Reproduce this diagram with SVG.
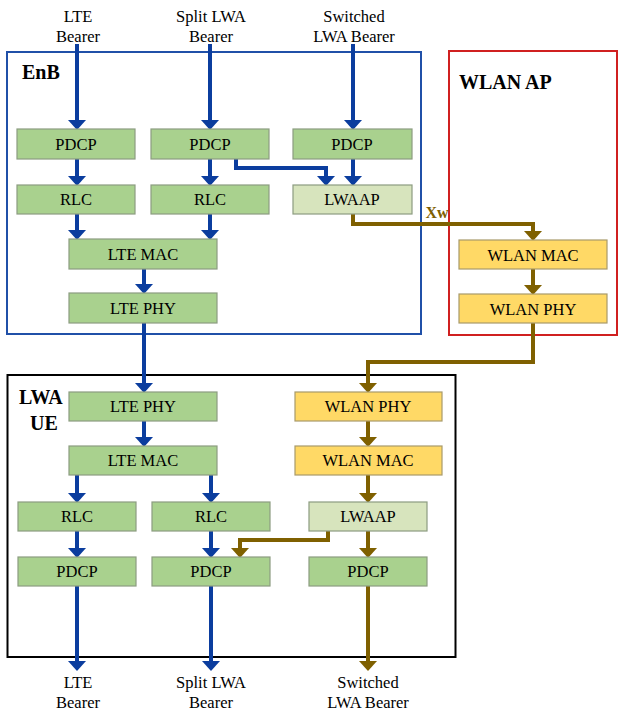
<svg xmlns="http://www.w3.org/2000/svg" width="621" height="717" viewBox="0 0 621 717">
<defs>
<style>
text{font-family:"Liberation Serif","Times New Roman",serif;font-size:16.5px;fill:#000;text-anchor:middle}
.lbl{font-weight:bold;font-size:20px;text-anchor:start}
.g{fill:#a9d18e;stroke:#8c9c80;stroke-width:1.2}
.l{fill:#d7e4bd;stroke:#8c9c80;stroke-width:1.2}
.y{fill:#ffd966;stroke:#a89a6a;stroke-width:1.2}
.b{fill:none;stroke:#0b3d9e;stroke-width:4;stroke-linejoin:miter}
.w{fill:none;stroke:#7f6000;stroke-width:4;stroke-linejoin:miter}
.ab{fill:#0b3d9e}
.aw{fill:#7f6000}
</style>
</defs>
<rect width="621" height="717" fill="#fff"/>

<g id="containers">
<rect x="7" y="52" width="414" height="282" fill="none" stroke="#2050a8" stroke-width="2"/>
<rect x="449" y="51" width="168" height="284" fill="none" stroke="#d02020" stroke-width="2"/>
<rect x="7.5" y="375" width="448" height="282" fill="none" stroke="#000" stroke-width="2"/>
<text class="lbl" x="22" y="79">EnB</text>
<text class="lbl" x="459" y="89">WLAN AP</text>
<text class="lbl" x="19" y="404">LWA</text>
<text class="lbl" x="30" y="430">UE</text>
</g>

<g id="top-labels">
<text x="78" y="22">LTE</text><text x="78" y="42">Bearer</text>
<text x="211" y="22">Split LWA</text><text x="211" y="42">Bearer</text>
<text x="354" y="22">Switched</text><text x="354" y="42">LWA Bearer</text>
</g>
<g id="bottom-labels">
<text x="78" y="688">LTE</text><text x="78" y="708">Bearer</text>
<text x="211" y="688">Split LWA</text><text x="211" y="708">Bearer</text>
<text x="368" y="688">Switched</text><text x="368" y="708">LWA Bearer</text>
</g>

<g id="connectors">
<path class="b" d="M77,44 V121"/><path class="ab" d="M68,120 h18 l-9,10 z"/>
<path class="b" d="M210,44 V121"/><path class="ab" d="M201,120 h18 l-9,10 z"/>
<path class="b" d="M353,44 V121"/><path class="ab" d="M344,120 h18 l-9,10 z"/>
<path class="b" d="M77,159 V177"/><path class="ab" d="M68,176 h18 l-9,10 z"/>
<path class="b" d="M210,159 V177"/><path class="ab" d="M201,176 h18 l-9,10 z"/>
<path class="b" d="M353,159 V177"/><path class="ab" d="M344,176 h18 l-9,10 z"/>
<path class="b" d="M236,159 V168 H326 V177"/><path class="ab" d="M317,176 h18 l-9,10 z"/>
<path class="b" d="M77,214 V231"/><path class="ab" d="M68,230 h18 l-9,10 z"/>
<path class="b" d="M210,214 V231"/><path class="ab" d="M201,230 h18 l-9,10 z"/>
<path class="b" d="M144,269 V285"/><path class="ab" d="M135,284 h18 l-9,10 z"/>
<path class="b" d="M144,323 V384"/><path class="ab" d="M135,383 h18 l-9,10 z"/>
<path class="b" d="M144,421 V438"/><path class="ab" d="M135,437 h18 l-9,10 z"/>
<path class="b" d="M77,475 V494"/><path class="ab" d="M68,493 h18 l-9,10 z"/>
<path class="b" d="M211,475 V494"/><path class="ab" d="M202,493 h18 l-9,10 z"/>
<path class="b" d="M77,531 V549"/><path class="ab" d="M68,548 h18 l-9,10 z"/>
<path class="b" d="M211,531 V549"/><path class="ab" d="M202,548 h18 l-9,10 z"/>
<path class="b" d="M77,586 V662"/><path class="ab" d="M68,661 h18 l-9,10 z"/>
<path class="b" d="M211,586 V662"/><path class="ab" d="M202,661 h18 l-9,10 z"/>
<path class="w" d="M353,214 V224 H533 V232"/><path class="aw" d="M524,231 h18 l-9,10 z"/>
<path class="w" d="M533,269 V286"/><path class="aw" d="M524,285 h18 l-9,10 z"/>
<path class="w" d="M533,323 V362 H368 V384"/><path class="aw" d="M359,383 h18 l-9,10 z"/>
<path class="w" d="M368,421 V438"/><path class="aw" d="M359,437 h18 l-9,10 z"/>
<path class="w" d="M368,475 V494"/><path class="aw" d="M359,493 h18 l-9,10 z"/>
<path class="w" d="M368,531 V549"/><path class="aw" d="M359,548 h18 l-9,10 z"/>
<path class="w" d="M328,531 V540 H240 V549"/><path class="aw" d="M231,548 h18 l-9,10 z"/>
<path class="w" d="M368,586 V662"/><path class="aw" d="M359,661 h18 l-9,10 z"/>
<text x="437" y="218" style="font-weight:bold;fill:#7f6000;font-size:16px">Xw</text>
</g>

<g id="enb-pdcp-lte"><rect class="g" x="17" y="129" width="118" height="30"/><text x="76" y="150">PDCP</text></g>
<g id="enb-pdcp-split"><rect class="g" x="151" y="129" width="118" height="30"/><text x="210" y="150">PDCP</text></g>
<g id="enb-pdcp-switched"><rect class="g" x="293" y="129" width="119" height="30"/><text x="352" y="150">PDCP</text></g>
<g id="enb-rlc-lte"><rect class="g" x="17" y="185" width="118" height="29"/><text x="76" y="205">RLC</text></g>
<g id="enb-rlc-split"><rect class="g" x="151" y="185" width="118" height="29"/><text x="210" y="205">RLC</text></g>
<g id="enb-lwaap"><rect class="l" x="293" y="185" width="119" height="29"/><text x="352" y="205">LWAAP</text></g>
<g id="enb-lte-mac"><rect class="g" x="69" y="239" width="148" height="30"/><text x="143" y="260">LTE MAC</text></g>
<g id="enb-lte-phy"><rect class="g" x="69" y="293" width="148" height="30"/><text x="143" y="314">LTE PHY</text></g>

<g id="ap-wlan-mac"><rect class="y" x="459" y="240" width="148" height="29"/><text x="533" y="261">WLAN MAC</text></g>
<g id="ap-wlan-phy"><rect class="y" x="459" y="294" width="148" height="29"/><text x="533" y="315">WLAN PHY</text></g>

<g id="ue-lte-phy"><rect class="g" x="69" y="392" width="148" height="29"/><text x="143" y="412">LTE PHY</text></g>
<g id="ue-lte-mac"><rect class="g" x="69" y="446" width="148" height="29"/><text x="143" y="466">LTE MAC</text></g>
<g id="ue-wlan-phy"><rect class="y" x="295" y="392" width="147" height="29"/><text x="368" y="412">WLAN PHY</text></g>
<g id="ue-wlan-mac"><rect class="y" x="295" y="446" width="147" height="29"/><text x="368" y="466">WLAN MAC</text></g>
<g id="ue-rlc-lte"><rect class="g" x="18" y="502" width="118" height="29"/><text x="77" y="522">RLC</text></g>
<g id="ue-rlc-split"><rect class="g" x="152" y="502" width="118" height="29"/><text x="211" y="522">RLC</text></g>
<g id="ue-lwaap"><rect class="l" x="309" y="502" width="118" height="29"/><text x="368" y="522">LWAAP</text></g>
<g id="ue-pdcp-lte"><rect class="g" x="18" y="557" width="118" height="29"/><text x="77" y="577">PDCP</text></g>
<g id="ue-pdcp-split"><rect class="g" x="152" y="557" width="118" height="29"/><text x="211" y="577">PDCP</text></g>
<g id="ue-pdcp-switched"><rect class="g" x="309" y="557" width="118" height="29"/><text x="368" y="577">PDCP</text></g>
</svg>
